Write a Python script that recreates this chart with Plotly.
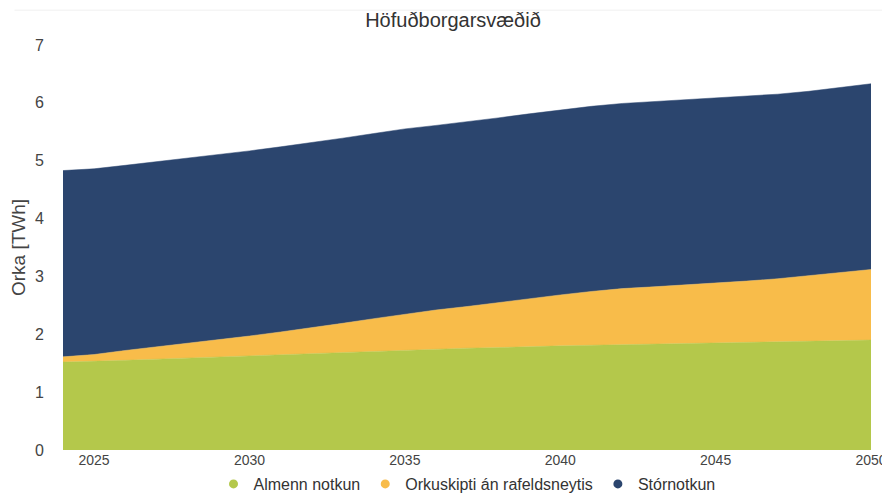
import plotly.graph_objects as go

years = list(range(2024, 2051))

almenn = [1.52, 1.53, 1.55, 1.57, 1.59, 1.61, 1.63, 1.65, 1.67, 1.69, 1.71, 1.73, 1.74, 1.76,
          1.77, 1.79, 1.80, 1.81, 1.82, 1.83, 1.84, 1.85, 1.86, 1.87, 1.88, 1.89, 1.90]
orkuskipti = [0.09, 0.12, 0.17, 0.21, 0.25, 0.29, 0.34, 0.39, 0.44, 0.50, 0.56, 0.62, 0.68, 0.72,
              0.78, 0.83, 0.88, 0.93, 0.97, 0.99, 1.01, 1.03, 1.06, 1.09, 1.13, 1.17, 1.22]
storn = [3.22, 3.21, 3.20, 3.20, 3.20, 3.20, 3.20, 3.20, 3.20, 3.20, 3.20, 3.20, 3.19, 3.19,
         3.19, 3.19, 3.20, 3.20, 3.20, 3.20, 3.20, 3.20, 3.19, 3.19, 3.19, 3.20, 3.21]

series = [
    ("Almenn notkun", almenn, "#b4c84b"),
    ("Orkuskipti án rafeldsneytis", orkuskipti, "#f8bc4a"),
    ("Stórnotkun", storn, "#2b456e"),
]

FONT = "Liberation Sans, Arial, sans-serif"

fig = go.Figure()
for name, vals, colour in series:
    fig.add_trace(
        go.Scatter(
            x=years,
            y=vals,
            name=name,
            mode="lines",
            stackgroup="one",
            line=dict(width=0.5, color=colour),
            fillcolor=colour,
            showlegend=False,
        )
    )
    # round legend markers like the original
    fig.add_trace(
        go.Scatter(
            x=[None],
            y=[None],
            name=name,
            mode="markers",
            marker=dict(symbol="circle", size=9, color=colour),
        )
    )

# page body has an 8px margin, so size the figure to the visible part of the window
fig.update_layout(
    width=882,
    height=488,
    paper_bgcolor="white",
    plot_bgcolor="white",
    font=dict(family=FONT, color="#444444", size=14),
    margin=dict(l=55, r=19, t=37, b=46, autoexpand=False),
    title=dict(
        text="Höfuðborgarsvæðið",
        x=0.5045,
        xanchor="center",
        y=0.975,
        yanchor="middle",
        font=dict(size=20, color="#333333"),
    ),
    legend=dict(
        orientation="h",
        traceorder="normal",
        x=0.5,
        xanchor="center",
        y=-0.084,
        yanchor="middle",
        bgcolor="rgba(0,0,0,0)",
        font=dict(size=16, color="#333333"),
        itemwidth=30,
        tracegroupgap=0,
    ),
    shapes=[
        dict(
            type="line",
            xref="paper",
            yref="paper",
            x0=-0.06,
            x1=1.022,
            y0=1.086,
            y1=1.086,
            line=dict(color="#f0f0f0", width=1),
        )
    ],
)

fig.update_xaxes(
    range=[2024, 2050],
    tickvals=[2025, 2030, 2035, 2040, 2045, 2050],
    showgrid=False,
    zeroline=False,
    showline=False,
    ticks="",
    ticklabeloverflow="allow",
    tickfont=dict(size=14),
)
fig.update_yaxes(
    range=[0, 7],
    dtick=1,
    showgrid=False,
    zeroline=False,
    showline=False,
    ticks="",
    ticklabelstandoff=18,
    tickfont=dict(size=16),
    title=dict(text="Orka [TWh]", font=dict(size=19, color="#444444"), standoff=4),
)

fig.write_html("out.html")
